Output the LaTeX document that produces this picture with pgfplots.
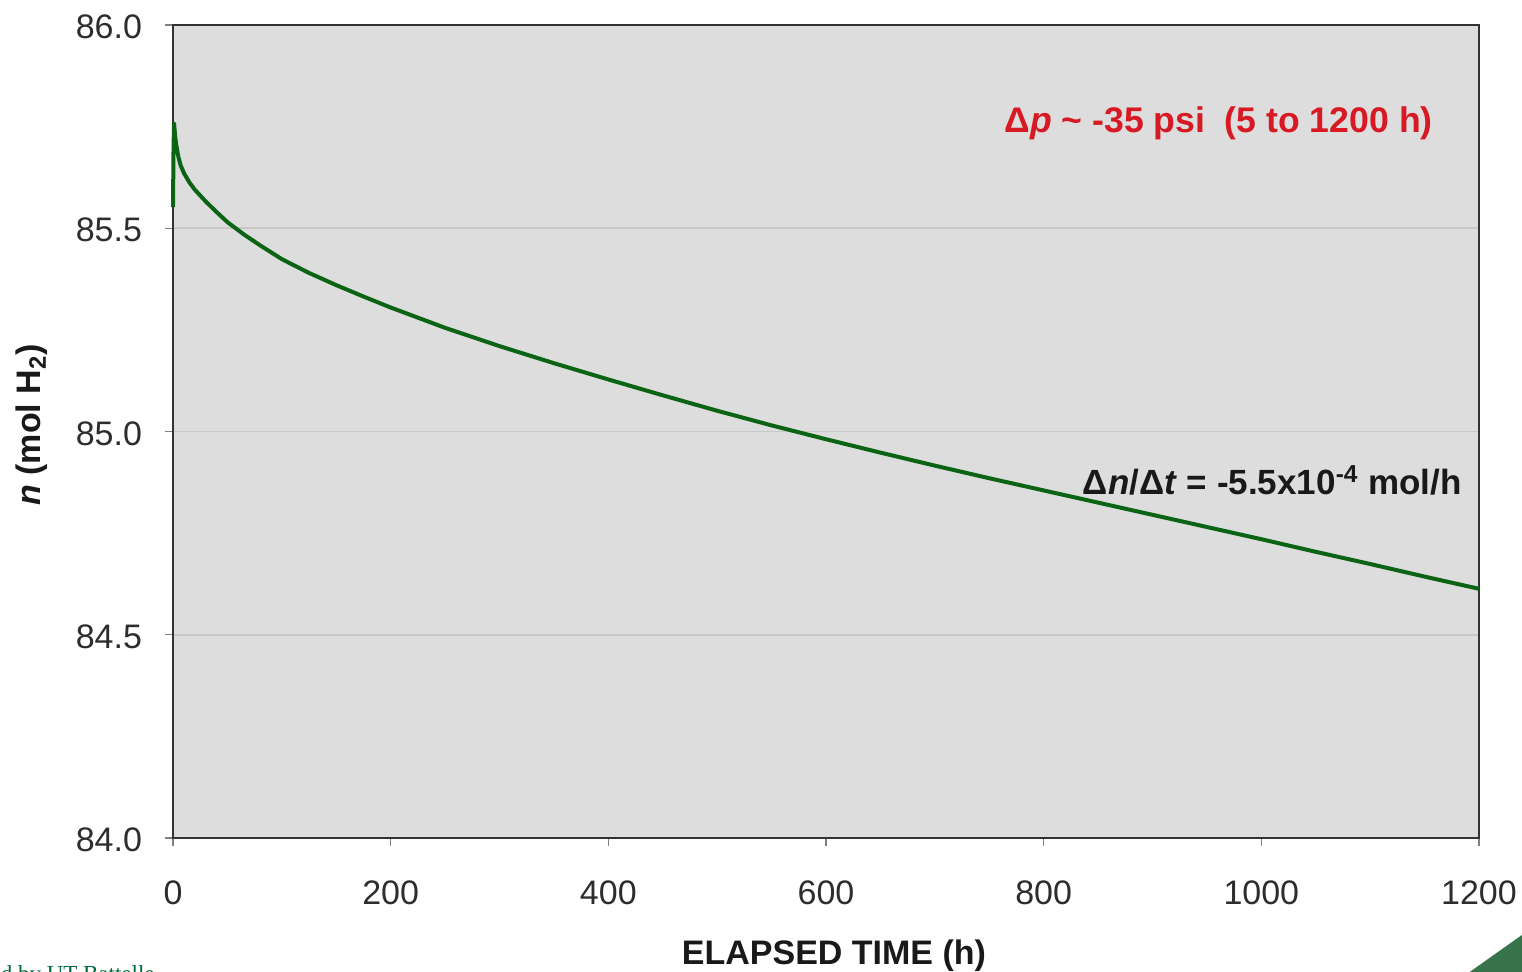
\documentclass[border=0pt]{standalone}
\usepackage{pgfplots}
\pgfplotsset{compat=1.18}
\usepackage{fontspec}
\setmainfont{Liberation Sans}
\newfontfamily\seriffont{Liberation Serif}
\definecolor{bggray}{RGB}{221,221,221}
\definecolor{gridgray}{RGB}{200,200,200}
\definecolor{curvegreen}{RGB}{10,100,20}
\definecolor{annred}{RGB}{215,25,35}
\definecolor{footgreen}{RGB}{0,105,60}
\definecolor{trigreen}{RGB}{55,115,75}
\definecolor{ticktext}{RGB}{45,45,45}

\pgfplotstableread{
x y
0 85.552
0.5 85.70
1 85.758
2 85.725
3 85.705
5 85.675
7 85.655
10 85.636
15 85.613
20 85.595
30 85.566
40 85.540
50 85.515
65 85.485
80 85.458
100 85.424
125 85.390
150 85.360
175 85.332
200 85.305
250 85.255
300 85.210
350 85.168
400 85.128
450 85.089
500 85.051
550 85.015
600 84.981
650 84.948
700 84.916
750 84.885
800 84.855
850 84.825
900 84.795
950 84.765
1000 84.735
1050 84.704
1100 84.674
1150 84.643
1200 84.613
}\curvedata

\begin{document}
\begin{tikzpicture}
\begin{axis}[
  scale only axis, width=653pt, height=406.5pt,
  xmin=0, xmax=1200, ymin=84, ymax=86,
  xtick={0,200,...,1200}, ytick={84,84.5,85,85.5,86},
  yticklabel style={/pgf/number format/fixed, /pgf/number format/fixed zerofill, /pgf/number format/precision=1},
  xticklabel style={/pgf/number format/fixed, /pgf/number format/1000 sep={}},
  /pgf/number format/assume math mode=true,
  axis background/.style={fill=bggray},
  ymajorgrids, grid style={gridgray, line width=0.8pt},
  axis line style={line width=1pt, black!80},
  tick pos=left, tick align=outside, major tick length=4pt,
  tick style={gray, line width=0.6pt},
  ticklabel style={font=\fontsize{17}{20}\selectfont, text=ticktext},
  xticklabel style={yshift=-14pt},
  yticklabel style={xshift=-8pt, yshift=-1pt},
  clip=false,
]
\addplot[curvegreen, line width=2pt, line join=round] table[x=x,y=y] {\curvedata};
\node[anchor=east, inner sep=0pt, text=annred, font=\bfseries\fontsize{17.8}{20}\selectfont]
  at (axis cs:1157.8,85.757) {Δ\textit{p} \textasciitilde\ -35 psi\ \ (5 to 1200 h)};
\node[anchor=east, inner sep=0pt, text=black!90, font=\bfseries\fontsize{17.5}{20}\selectfont]
  at (axis cs:1184.4,84.880) {Δ\textit{n}/Δ\textit{t} = -5.5x10\textsuperscript{-4} mol/h};
\coordinate (bl) at (rel axis cs:0,0);
\coordinate (tr) at (rel axis cs:1,1);
\end{axis}
\pgfresetboundingbox
\path[use as bounding box] ([xshift=-86.5pt,yshift=-67pt]bl) rectangle ([xshift=21.5pt,yshift=12.5pt]tr);
\node[rotate=90, font=\bfseries\fontsize{17}{20}\selectfont, text=black!90]
  at ([xshift=-70.5pt,yshift=206.5pt]bl) {\textit{n} (mol H\textsubscript{2})};
\node[font=\bfseries\fontsize{17}{20}\selectfont, text=black!90]
  at ([xshift=330.5pt,yshift=-59pt]bl) {ELAPSED TIME (h)};
\node[anchor=north east, inner sep=0pt, text=footgreen, font=\seriffont\fontsize{11.5}{13}\selectfont]
  at ([xshift=-9pt,yshift=-63.5pt]bl) {Managed by UT-Battelle};
\fill[trigreen] ([xshift=630pt,yshift=-80pt]bl) -- ([xshift=690pt,yshift=-37.5pt]bl) -- ([xshift=690pt,yshift=-80pt]bl) -- cycle;
\end{tikzpicture}
\end{document}
